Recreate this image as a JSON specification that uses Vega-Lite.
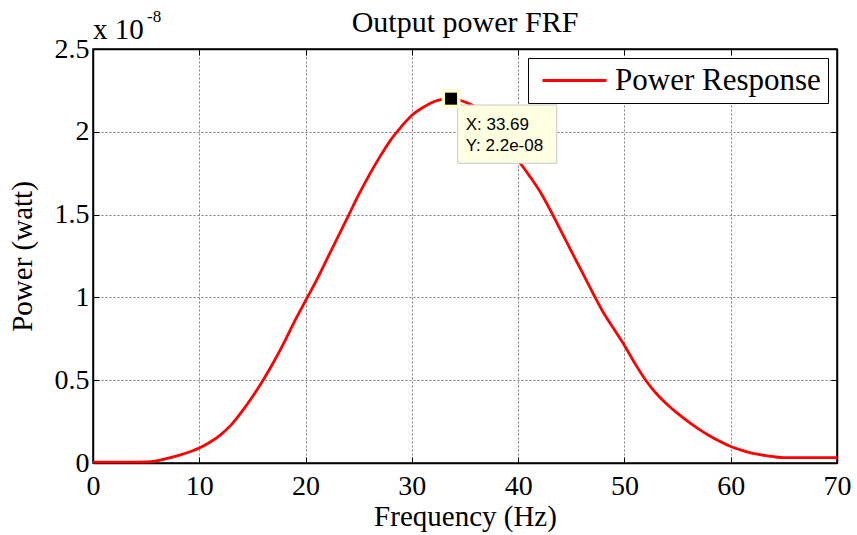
{
  "$schema": "https://vega.github.io/schema/vega-lite/v6.json",
  "width": 744,
  "height": 414,
  "autosize": {"type": "none"},
  "padding": {"left": 93, "top": 49, "right": 20, "bottom": 72},
  "background": "white",
  "title": {"text": "Output power FRF", "font": "Liberation Serif", "fontSize": 30, "fontWeight": "normal", "color": "black", "baseline": "alphabetic", "offset": -54},
  "datasets": {
    "frf": [
      {"freq": 0, "power": 0.5e-10},
      {"freq": 1, "power": 0.5e-10},
      {"freq": 2, "power": 0.5e-10},
      {"freq": 3, "power": 0.5e-10},
      {"freq": 4, "power": 0.5e-10},
      {"freq": 5, "power": 0.6e-10},
      {"freq": 6, "power": 1.3e-10},
      {"freq": 7, "power": 2.8e-10},
      {"freq": 8, "power": 4.5e-10},
      {"freq": 9, "power": 6.5e-10},
      {"freq": 10, "power": 0.9e-9},
      {"freq": 11, "power": 1.25e-9},
      {"freq": 12, "power": 1.7e-9},
      {"freq": 13, "power": 2.3e-9},
      {"freq": 14, "power": 3.1e-9},
      {"freq": 15, "power": 4.0e-9},
      {"freq": 16, "power": 5.0e-9},
      {"freq": 17, "power": 6.1e-9},
      {"freq": 18, "power": 7.3e-9},
      {"freq": 19, "power": 8.6e-9},
      {"freq": 20, "power": 9.8e-9},
      {"freq": 21, "power": 1.10e-8},
      {"freq": 22, "power": 1.23e-8},
      {"freq": 23, "power": 1.36e-8},
      {"freq": 24, "power": 1.49e-8},
      {"freq": 25, "power": 1.62e-8},
      {"freq": 26, "power": 1.74e-8},
      {"freq": 27, "power": 1.85e-8},
      {"freq": 28, "power": 1.95e-8},
      {"freq": 29, "power": 2.03e-8},
      {"freq": 30, "power": 2.10e-8},
      {"freq": 31, "power": 2.145e-8},
      {"freq": 32, "power": 2.18e-8},
      {"freq": 33, "power": 2.197e-8},
      {"freq": 33.69, "power": 2.20e-8},
      {"freq": 35, "power": 2.18e-8},
      {"freq": 36, "power": 2.15e-8},
      {"freq": 37, "power": 2.10e-8},
      {"freq": 38, "power": 2.03e-8},
      {"freq": 39, "power": 1.94e-8},
      {"freq": 40, "power": 1.83e-8},
      {"freq": 41, "power": 1.74e-8},
      {"freq": 42, "power": 1.645e-8},
      {"freq": 43, "power": 1.53e-8},
      {"freq": 44, "power": 1.405e-8},
      {"freq": 45, "power": 1.28e-8},
      {"freq": 46, "power": 1.155e-8},
      {"freq": 47, "power": 1.03e-8},
      {"freq": 48, "power": 9.1e-9},
      {"freq": 49, "power": 8.1e-9},
      {"freq": 50, "power": 7.1e-9},
      {"freq": 51, "power": 6.0e-9},
      {"freq": 52, "power": 5.0e-9},
      {"freq": 53, "power": 4.2e-9},
      {"freq": 54, "power": 3.55e-9},
      {"freq": 55, "power": 3.0e-9},
      {"freq": 56, "power": 2.5e-9},
      {"freq": 57, "power": 2.05e-9},
      {"freq": 58, "power": 1.65e-9},
      {"freq": 59, "power": 1.3e-9},
      {"freq": 60, "power": 1.0e-9},
      {"freq": 61, "power": 7.8e-10},
      {"freq": 62, "power": 6.0e-10},
      {"freq": 63, "power": 4.7e-10},
      {"freq": 64, "power": 3.8e-10},
      {"freq": 65, "power": 3.2e-10},
      {"freq": 70, "power": 3.2e-10}
    ],
    "tip": [{"freq": 33.69, "power": 2.2e-8, "xtext": "X: 33.69", "ytext": "Y: 2.2e-08"}],
    "exp": [{"base": "x 10", "sup": "-8"}]
  },
  "layer": [
    {
      "data": {"name": "frf"},
      "mark": {"type": "line", "strokeWidth": 2.8, "interpolate": "monotone"},
      "encoding": {
        "x": {"field": "freq", "type": "quantitative", "scale": {"domain": [0, 70], "nice": false, "zero": false},
              "axis": {"orient": "bottom", "values": [0, 10, 20, 30, 40, 50, 60, 70], "title": "Frequency (Hz)", "labelPadding": 15, "titlePadding": 2}},
        "y": {"field": "power", "type": "quantitative", "scale": {"domain": [0, 2.5e-8], "nice": false, "zero": false},
              "axis": {"orient": "left", "values": [0, 5e-9, 1e-8, 1.5e-8, 2e-8, 2.5e-8], "labelExpr": "toString(round(datum.value*1e9)/10)", "title": "Power (watt)", "labelPadding": 10, "titlePadding": 17}},
        "color": {"datum": "Power Response", "type": "nominal", "scale": {"range": ["#ff0000"]},
                  "legend": {"title": null, "orient": "top-right", "offset": 9, "padding": 7, "strokeColor": "black", "fillColor": "white", "symbolType": "M-16,0H16", "symbolSize": 16, "symbolStrokeWidth": 2.8, "symbolOffset": 24, "labelFont": "Liberation Serif", "labelFontSize": 31, "labelColor": "black", "labelOffset": 25, "labelLimit": 0}}
      }
    },
    {
      "data": {"name": "tip"},
      "mark": {"type": "rect", "fill": "#ffffe1", "stroke": "#c8c8c8", "strokeWidth": 1},
      "encoding": {
        "x": {"datum": 34.31, "type": "quantitative", "axis": {"orient": "top", "labels": false, "title": null, "grid": false, "values": [0, 10, 20, 30, 40, 50, 60, 70]}},
        "x2": {"datum": 43.63},
        "y": {"datum": 2.162e-8, "type": "quantitative", "axis": {"orient": "right", "labels": false, "title": null, "grid": false, "values": [0, 5e-9, 1e-8, 1.5e-8, 2e-8, 2.5e-8]}},
        "y2": {"datum": 1.81e-8}
      }
    },
    {
      "data": {"name": "tip"},
      "mark": {"type": "text", "font": "Liberation Sans", "fontSize": 17, "align": "left", "baseline": "alphabetic", "dx": 8, "dy": 25, "color": "black"},
      "encoding": {
        "x": {"datum": 34.31, "type": "quantitative", "axis": null},
        "y": {"datum": 2.162e-8, "type": "quantitative", "axis": null},
        "text": {"field": "xtext"}
      }
    },
    {
      "data": {"name": "tip"},
      "mark": {"type": "text", "font": "Liberation Sans", "fontSize": 17, "align": "left", "baseline": "alphabetic", "dx": 8, "dy": 46, "color": "black"},
      "encoding": {
        "x": {"datum": 34.31, "type": "quantitative", "axis": null},
        "y": {"datum": 2.162e-8, "type": "quantitative", "axis": null},
        "text": {"field": "ytext"}
      }
    },
    {
      "data": {"name": "tip"},
      "mark": {"type": "square", "size": 361, "fill": "#ffffcc", "opacity": 1},
      "encoding": {
        "x": {"field": "freq", "type": "quantitative", "axis": null},
        "y": {"field": "power", "type": "quantitative", "axis": null}
      }
    },
    {
      "data": {"name": "tip"},
      "mark": {"type": "square", "size": 144, "fill": "black", "opacity": 1},
      "encoding": {
        "x": {"field": "freq", "type": "quantitative", "axis": null},
        "y": {"field": "power", "type": "quantitative", "axis": null}
      }
    },
    {
      "data": {"name": "exp"},
      "mark": {"type": "text", "font": "Liberation Serif", "fontSize": 29, "align": "left", "baseline": "alphabetic", "dy": -10, "color": "black"},
      "encoding": {
        "x": {"datum": 0, "type": "quantitative", "axis": null},
        "y": {"datum": 2.5e-8, "type": "quantitative", "axis": null},
        "text": {"field": "base"}
      }
    },
    {
      "data": {"name": "exp"},
      "mark": {"type": "text", "font": "Liberation Serif", "fontSize": 17, "align": "left", "baseline": "alphabetic", "dx": 54, "dy": -27, "color": "black"},
      "encoding": {
        "x": {"datum": 0, "type": "quantitative", "axis": null},
        "y": {"datum": 2.5e-8, "type": "quantitative", "axis": null},
        "text": {"field": "sup"}
      }
    }
  ],
  "resolve": {"axis": {"x": "independent", "y": "independent"}},
  "config": {
    "view": {"stroke": "black", "strokeWidth": 1.5},
    "axis": {
      "domainColor": "black", "domainWidth": 1.5,
      "tickColor": "black", "tickSize": -6, "tickWidth": 1,
      "labelFont": "Liberation Serif", "labelFontSize": 28, "labelColor": "black",
      "labelFlush": false, "labelOverlap": false,
      "titleFont": "Liberation Serif", "titleFontSize": 29, "titleFontWeight": "normal", "titleColor": "black",
      "grid": true, "gridColor": "#808080", "gridDash": [2, 2], "gridWidth": 1
    }
  }
}
